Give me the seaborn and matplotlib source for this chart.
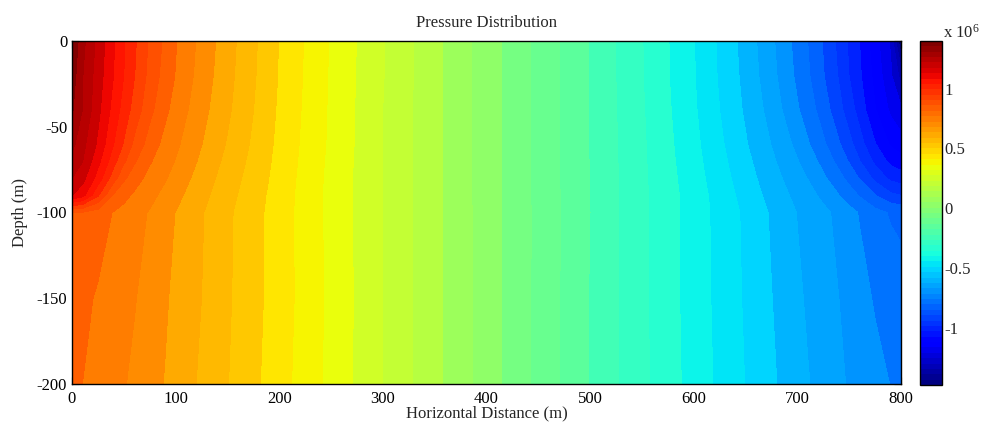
import numpy as np
import matplotlib
matplotlib.use("Agg")
import matplotlib.pyplot as plt
import seaborn as sns
from matplotlib.colors import Normalize
from matplotlib.cm import ScalarMappable

# ---------------- data (pressure, units of 1e6 Pa) ----------------
x_m = [0, 10, 25, 40, 50, 60, 75, 90, 100, 125, 150, 200, 250, 300, 400,
       500, 550, 600, 650, 675, 700, 710, 725, 740, 750, 760, 775, 790, 800]
depth_m = [0, -20, -40, -60, -70, -80, -90, -100, -150, -200]

p_z0 = [1.400, 1.296, 1.198, 1.100, 1.038, 0.982, 0.900, 0.834, 0.791, 0.707, 0.629, 0.478, 0.352, 0.238,
        0.021,
        -0.198, -0.314, -0.436, -0.586, -0.672, -0.768, -0.807, -0.873, -0.946, -1.001, -1.052, -1.150, -1.244, -1.481]
p_z20 = [1.373, 1.281, 1.185, 1.094, 1.032, 0.974, 0.890, 0.823, 0.784, 0.699, 0.623, 0.476, 0.350, 0.238,
         0.021,
         -0.198, -0.313, -0.435, -0.580, -0.664, -0.759, -0.798, -0.864, -0.935, -0.992, -1.042, -1.133, -1.226, -1.320]
p_z40 = [1.346, 1.277, 1.171, 1.071, 1.007, 0.948, 0.866, 0.800, 0.764, 0.685, 0.614, 0.471, 0.348, 0.235,
         0.021,
         -0.197, -0.310, -0.430, -0.571, -0.647, -0.739, -0.775, -0.837, -0.909, -0.962, -1.015, -1.110, -1.187, -1.225]
p_z60 = [1.295, 1.236, 1.144, 1.034, 0.965, 0.897, 0.821, 0.767, 0.738, 0.666, 0.598, 0.465, 0.346, 0.235,
         0.021,
         -0.197, -0.307, -0.422, -0.556, -0.625, -0.701, -0.739, -0.796, -0.862, -0.910, -0.966, -1.049, -1.122, -1.147]
p_z70 = [1.260, 1.219, 1.112, 0.995, 0.921, 0.857, 0.794, 0.748, 0.723, 0.652, 0.586, 0.461, 0.343, 0.235,
         0.021,
         -0.196, -0.306, -0.417, -0.545, -0.611, -0.681, -0.712, -0.766, -0.826, -0.874, -0.927, -1.005, -1.069, -1.089]
p_z80 = [1.216, 1.176, 1.068, 0.936, 0.859, 0.815, 0.767, 0.731, 0.702, 0.637, 0.574, 0.457, 0.340, 0.235,
         0.021,
         -0.196, -0.304, -0.412, -0.534, -0.597, -0.660, -0.686, -0.734, -0.787, -0.827, -0.872, -0.946, -1.006, -1.021]
p_z90 = [1.155, 1.117, 0.978, 0.840, 0.805, 0.777, 0.743, 0.708, 0.682, 0.622, 0.563, 0.452, 0.340, 0.235,
         0.021,
         -0.195, -0.304, -0.406, -0.523, -0.583, -0.641, -0.662, -0.699, -0.744, -0.776, -0.812, -0.866, -0.915, -0.929]
p_z100 = [0.848, 0.843, 0.817, 0.784, 0.767, 0.748, 0.721, 0.684, 0.663, 0.608, 0.553, 0.450, 0.340, 0.235,
          0.022,
          -0.194, -0.304, -0.406, -0.512, -0.569, -0.625, -0.642, -0.669, -0.701, -0.725, -0.750, -0.787, -0.813, -0.820]
p_z150 = [0.818, 0.802, 0.780, 0.758, 0.744, 0.730, 0.701, 0.671, 0.651, 0.603, 0.550, 0.450, 0.343, 0.235,
          0.023,
          -0.197, -0.304, -0.405, -0.508, -0.560, -0.612, -0.631, -0.658, -0.684, -0.703, -0.722, -0.752, -0.769, -0.782]
p_z200 = [0.801, 0.787, 0.766, 0.744, 0.730, 0.713, 0.687, 0.661, 0.641, 0.593, 0.544, 0.444, 0.340, 0.235,
          0.023,
          -0.198, -0.301, -0.402, -0.502, -0.552, -0.598, -0.619, -0.647, -0.673, -0.690, -0.704, -0.725, -0.747, -0.761]

p_min, p_max = -1.481, 1.400
n_levels = 48
cbar_ticks = [-1, -0.5, 0, 0.5, 1]
cbar_ticklabels = ["-1", "-0.5", "0", "0.5", "1"]
x_ticks = [0, 100, 200, 300, 400, 500, 600, 700, 800]
y_ticks = [0, -50, -100, -150, -200]
y_ticklabels = ["0", "-50", "-100", "-150", "-200"]

# ---------------- style ----------------
sns.set_style("ticks")
plt.rcParams["font.family"] = ["Liberation Serif", "DejaVu Serif"]
plt.rcParams["axes.unicode_minus"] = False
plt.rcParams["mathtext.fontset"] = "custom"
plt.rcParams["mathtext.rm"] = "Liberation Serif"
plt.rcParams["mathtext.it"] = "Liberation Serif"

jet64 = matplotlib.colormaps["jet"].resampled(64)

P = np.array([p_z0, p_z20, p_z40, p_z60, p_z70, p_z80, p_z90, p_z100, p_z150, p_z200])
X, Z = np.meshgrid(np.array(x_m, float), np.array(depth_m, float))

fig = plt.figure(figsize=(9.88, 4.30), dpi=100)
ax = fig.add_axes([72 / 988, 46 / 430, 829 / 988, 343 / 430])
levels = np.linspace(p_min - 1e-6, p_max + 1e-6, n_levels)
ax.contourf(X, Z, P, levels=levels, cmap=jet64, vmin=p_min, vmax=p_max)

ax.set_xlim(0, 800)
ax.set_ylim(-200, 0)
ax.set_xticks(x_ticks)
ax.set_yticks(y_ticks)
ax.set_yticklabels(y_ticklabels)
ax.tick_params(axis="x", pad=5)
ax.tick_params(direction="in", length=5, width=0.8, top=True, right=True,
               labelsize=12, colors="black")
for s in ax.spines.values():
    s.set_linewidth(1.0)
    s.set_color("black")
ax.set_title("Pressure Distribution", fontsize=12, pad=10)
ax.set_xlabel("Horizontal Distance (m)", fontsize=12, labelpad=-1)
ax.set_ylabel("Depth (m)", fontsize=12, labelpad=6)

cax = fig.add_axes([920 / 988, 45 / 430, 22 / 988, 344 / 430])
sm = ScalarMappable(norm=Normalize(vmin=p_min, vmax=p_max), cmap=jet64)
cb = fig.colorbar(sm, cax=cax)
cb.set_ticks(cbar_ticks)
cb.set_ticklabels(cbar_ticklabels)
cb.outline.set_linewidth(1.0)
cb.outline.set_edgecolor("black")
cax.yaxis.set_ticks_position("both")
cax.yaxis.set_label_position("right")
cax.tick_params(direction="in", length=4, width=0.8, left=True, right=True,
                labelleft=False, labelright=True, labelsize=12, pad=2)
fig.text(943 / 988, 1 - 38 / 430, r"x 10$^{6}$", fontsize=12, ha="left", va="baseline")

fig.savefig("out.png", dpi=100)
